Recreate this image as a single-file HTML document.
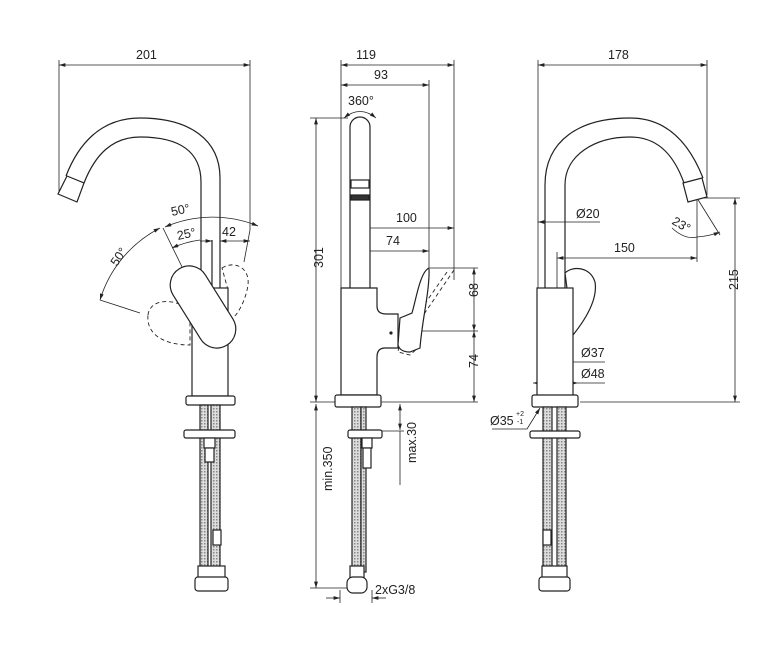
<!DOCTYPE html>
<html><head><meta charset="utf-8"><style>
html,body{margin:0;padding:0;background:#fff}
svg{display:block}
text{font-family:"Liberation Sans",sans-serif;font-size:12.5px;fill:#222}
</style></head><body>
<svg width="767" height="651" viewBox="0 0 767 651" xmlns="http://www.w3.org/2000/svg">
<defs>
<marker id="a" viewBox="0 0 10 6" refX="10" refY="3" markerWidth="8" markerHeight="5" orient="auto-start-reverse"><path d="M0,0 L10,3 L0,6z" fill="#222"/></marker>
<pattern id="h" width="3" height="3" patternUnits="userSpaceOnUse"><rect width="3" height="3" fill="#ddd"/><rect width="1.5" height="1.5" fill="#888"/></pattern>
</defs>
<g fill="none" stroke="#222" stroke-width="0.8">
<line x1="59" y1="65" x2="250" y2="65" marker-start="url(#a)" marker-end="url(#a)"/>
<line x1="59" y1="60" x2="59" y2="192"/>
<line x1="250" y1="60" x2="250" y2="230"/>
<path d="M100,300 A120,120 0 0 1 160,228" marker-start="url(#a)" marker-end="url(#a)"/>
<path d="M165,227 A120,120 0 0 1 258,226" marker-start="url(#a)" marker-end="url(#a)"/>
<path d="M172,248 A100,100 0 0 1 200,240" marker-start="url(#a)"/>
<line x1="200" y1="241" x2="212" y2="241" marker-end="url(#a)"/>
<line x1="220" y1="241" x2="250" y2="241" marker-start="url(#a)" marker-end="url(#a)"/>
<line x1="163" y1="228" x2="185" y2="273"/>
<line x1="100" y1="300" x2="140" y2="313"/>
<line x1="250" y1="230" x2="244" y2="262"/>
<line x1="341" y1="65" x2="454" y2="65" marker-start="url(#a)" marker-end="url(#a)"/>
<line x1="341" y1="85" x2="429" y2="85" marker-start="url(#a)" marker-end="url(#a)"/>
<line x1="341" y1="60" x2="341" y2="288"/>
<line x1="454" y1="60" x2="454" y2="280"/>
<line x1="429" y1="80" x2="429" y2="268"/>
<path d="M344,118 Q360,105 376,118" marker-start="url(#a)" marker-end="url(#a)"/>
<line x1="316" y1="118" x2="316" y2="402" marker-start="url(#a)" marker-end="url(#a)"/>
<line x1="310" y1="118" x2="348" y2="118"/>
<line x1="359" y1="228" x2="454" y2="228" marker-start="url(#a)" marker-end="url(#a)"/>
<line x1="359" y1="251" x2="429" y2="251" marker-start="url(#a)" marker-end="url(#a)"/>
<line x1="359" y1="222" x2="359" y2="290"/>
<line x1="474" y1="268" x2="474" y2="331" marker-start="url(#a)" marker-end="url(#a)"/>
<line x1="474" y1="331" x2="474" y2="402" marker-start="url(#a)" marker-end="url(#a)"/>
<line x1="430" y1="268" x2="478" y2="268"/>
<line x1="400" y1="331" x2="478" y2="331"/>
<line x1="310" y1="402" x2="478" y2="402"/>
<line x1="316" y1="404" x2="316" y2="588" marker-start="url(#a)" marker-end="url(#a)"/>
<line x1="310" y1="588" x2="348" y2="588"/>
<line x1="400" y1="404" x2="400" y2="430" marker-start="url(#a)" marker-end="url(#a)"/>
<line x1="382" y1="431" x2="404" y2="431"/>
<line x1="400" y1="431" x2="400" y2="485"/>
<line x1="326" y1="598" x2="340" y2="598" marker-end="url(#a)"/>
<line x1="386" y1="598" x2="372" y2="598" marker-end="url(#a)"/>
<line x1="340" y1="590" x2="340" y2="603"/><line x1="372" y1="590" x2="372" y2="603"/>
<line x1="538" y1="65" x2="707" y2="65" marker-start="url(#a)" marker-end="url(#a)"/>
<line x1="538" y1="60" x2="538" y2="288"/>
<line x1="707" y1="60" x2="707" y2="195"/>
<line x1="538" y1="222" x2="545" y2="222" marker-start="url(#a)"/>
<line x1="545" y1="222" x2="600" y2="222"/>
<line x1="557" y1="258" x2="697" y2="258" marker-start="url(#a)" marker-end="url(#a)"/>
<line x1="557" y1="252" x2="557" y2="290"/>
<line x1="697" y1="198" x2="697" y2="262"/>
<line x1="697" y1="198" x2="720" y2="235"/>
<path d="M672,228 Q685,240 697,237 Q710,236 720,232" marker-end="url(#a)"/>
<line x1="700" y1="198" x2="740" y2="198"/>
<line x1="735" y1="198" x2="735" y2="402" marker-start="url(#a)" marker-end="url(#a)"/>
<line x1="580" y1="402" x2="740" y2="402"/>
<line x1="538" y1="362" x2="573" y2="362" marker-start="url(#a)" marker-end="url(#a)"/>
<line x1="573" y1="362" x2="605" y2="362"/>
<line x1="533" y1="383" x2="578" y2="383" marker-start="url(#a)" marker-end="url(#a)"/>
<line x1="578" y1="383" x2="605" y2="383"/>
<polyline points="492,429 527,429 540,408" marker-end="url(#a)"/>
</g>

<g fill="#fff" stroke="#222" stroke-width="1.2">
<path d="M220,290 L220,178 C220,140 190,118 140,118 C100,118 78,145 66,176 M201,290 L201,182 C201,152 180,137 140,137 C112,137 95,155 84,183" fill="none"/>
<path d="M67,176 L84,183 L77,202 L58,194 Z"/>
<line x1="212" y1="240" x2="212" y2="290"/>
<path d="M148,315 C150,298 175,298 190,310 L190,345 C165,345 146,335 148,315Z" fill="none" stroke-dasharray="4,3" stroke-width="0.9"/>
<path d="M222,268 C235,260 250,268 248,285 C246,300 236,320 228,320 L228,290Z" fill="none" stroke-dasharray="4,3" stroke-width="0.9"/>
<rect x="192" y="288" width="36" height="108"/>
<rect x="178" y="288" width="90" height="38" rx="19" transform="rotate(58 203 307) translate(-20 0)"/>
<rect x="186" y="396" width="49" height="9" rx="2"/>
<rect x="200" y="405" width="8" height="170" fill="url(#h)"/>
<rect x="211" y="405" width="9" height="170" fill="url(#h)"/>
<rect x="184" y="430" width="51" height="8" rx="2"/>
<rect x="204" y="438" width="11" height="10"/><rect x="205" y="448" width="9" height="14"/>
<rect x="213" y="530" width="8" height="15"/>
<rect x="198" y="566" width="27" height="12"/>
<rect x="195" y="577" width="33" height="14" rx="3"/>
<path d="M350,288 L350,127 A10,10 0 0 1 370,127 L370,288"/>
<rect x="351" y="180" width="18" height="8" fill="none"/>
<rect x="351" y="195" width="18" height="5" fill="#333"/>
<path d="M341,288 L377,288 L377,306 Q377,314 386,314 L398,314 L398,348 L385,348 Q377,348 377,357 L377,395 L341,395 Z"/>
<path d="M454,270 L420,320 L400,345 M447,272 L415,318 L398,338" fill="none" stroke-dasharray="4,3" stroke-width="0.9"/>
<path d="M400,340 L398,352 L410,355 L418,348" fill="none" stroke-dasharray="4,3" stroke-width="0.9"/>
<path d="M429,268 C420,272 416,300 412,313 L400,318 L398,345 Q400,352 410,352 L420,348 C422,320 430,290 429,268Z"/>
<circle cx="391" cy="333" r="1" fill="#222"/>
<rect x="335" y="395" width="46" height="12" rx="2"/>
<rect x="352" y="407" width="9" height="165" fill="url(#h)"/>
<rect x="361" y="407" width="5" height="165" fill="url(#h)"/>
<rect x="348" y="430" width="34" height="8" rx="2"/>
<rect x="362" y="438" width="10" height="10"/><rect x="363" y="448" width="8" height="20"/>
<rect x="350" y="566" width="14" height="12"/>
<rect x="347" y="577" width="20" height="16" rx="6"/>
<path d="M545,290 L545,185 C545,140 580,118 630,118 C668,118 690,145 703,178 M565,290 L565,185 C565,155 595,137 630,137 C660,137 675,158 684,183" fill="none"/>
<path d="M683,183 L702,178 L707,197 L688,202 Z"/>
<path d="M565,273 C572,266 590,266 595,282 C598,300 585,320 573,335 Z"/>
<rect x="537" y="288" width="36" height="108"/>
<rect x="532" y="395" width="46" height="12" rx="2"/>
<rect x="543" y="407" width="9" height="165" fill="url(#h)"/>
<rect x="557" y="407" width="9" height="165" fill="url(#h)"/>
<rect x="530" y="431" width="50" height="7" rx="2"/>
<rect x="543" y="530" width="8" height="15"/>
<rect x="542" y="566" width="25" height="12"/>
<rect x="539" y="577" width="31" height="14" rx="3"/>
</g>

<g>
<text x="136" y="59">201</text>
<text x="172" y="216" transform="rotate(-12 172 216)">50°</text>
<text x="178" y="240" transform="rotate(-12 178 240)">25°</text>
<text x="222" y="236">42</text>
<text x="110" y="262" transform="rotate(-55 118 258)">50°</text>
<text x="356" y="59">119</text>
<text x="374" y="79">93</text>
<text x="348" y="105">360°</text>
<text x="313" y="278" transform="rotate(-90 313 268)">301</text>
<text x="396" y="222">100</text>
<text x="386" y="245">74</text>
<text x="470" y="305" transform="rotate(-90 470 297)">68</text>
<text x="470" y="376" transform="rotate(-90 470 368)">74</text>
<text x="311" y="512" transform="rotate(-90 311 491)">min.350</text>
<text x="397" y="482" transform="rotate(-90 397 463)">max.30</text>
<text x="375" y="594">2xG3/8</text>
<text x="608" y="59">178</text>
<text x="576" y="218">Ø20</text>
<text x="614" y="252">150</text>
<text x="672" y="228" transform="rotate(30 680 224)">23°</text>
<text x="739" y="309" transform="rotate(-90 729 300)">215</text>
<text x="581" y="357">Ø37</text>
<text x="581" y="378">Ø48</text>
<text x="490" y="425">Ø35</text>
<text x="516" y="416" style="font-size:7px">+2</text>
<text x="517" y="424" style="font-size:7px">-1</text>
</g>
</svg>
</body></html>
